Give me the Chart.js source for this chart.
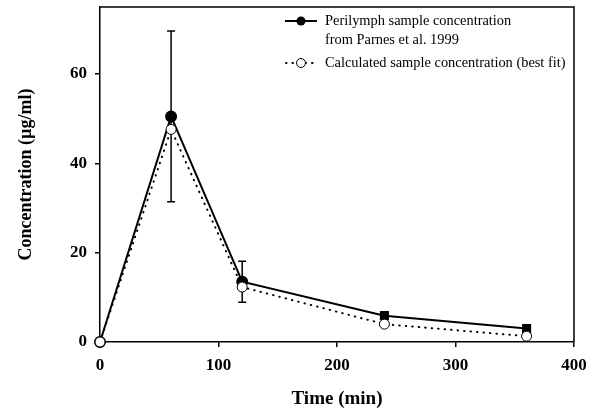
<!DOCTYPE html>
<html>
<head>
<meta charset="utf-8">
<script src="https://cdn.jsdelivr.net/npm/chart.js@4"></script>
<style>
  html, body { margin: 0; padding: 0; background: #fff; }
  #wrap { width: 598px; height: 410px; }
</style>
</head>
<body>
<div id="wrap"><canvas id="chart" width="598" height="410"></canvas></div>
<script>
// data
const times = [0, 60, 120, 240, 360];
const measured = [0, 50.5, 13.5, 5.9, 3.0];
const measuredErr = [0, 19.1, 4.6, 0, 0];
const calculated = [0, 47.6, 12.3, 4.0, 1.3];
const xTicks = [0, 100, 200, 300, 400];
const yTicks = [0, 20, 40, 60];

const legendLabels = [
  ['Perilymph sample concentration', 'from Parnes et al. 1999'],
  ['Calculated sample concentration (best fit)']
];

const serif = '"Liberation Serif", "Times New Roman", serif';
const dots = [0.5, 6];

// error bars under the markers
const errorBars = {
  id: 'errorBars',
  beforeDatasetsDraw(chart) {
    const ctx = chart.ctx;
    const xs = chart.scales.x, ys = chart.scales.y;
    ctx.save();
    ctx.strokeStyle = '#000';
    ctx.lineWidth = 1.5;
    times.forEach((t, i) => {
      const e = measuredErr[i];
      if (!e) return;
      const x = xs.getPixelForValue(t);
      const y1 = ys.getPixelForValue(measured[i] + e);
      const y2 = ys.getPixelForValue(measured[i] - e);
      ctx.beginPath();
      ctx.moveTo(x, y1); ctx.lineTo(x, y2);
      ctx.moveTo(x - 4, y1); ctx.lineTo(x + 4, y1);
      ctx.moveTo(x - 4, y2); ctx.lineTo(x + 4, y2);
      ctx.stroke();
    });
    ctx.restore();
  }
};

// frame + legend
const frameLegend = {
  id: 'frameLegend',
  afterDraw(chart) {
    const ctx = chart.ctx;
    const a = chart.chartArea;
    ctx.save();
    ctx.strokeStyle = '#000';
    ctx.lineWidth = 1.5;
    ctx.beginPath();
    ctx.moveTo(a.left, a.top); ctx.lineTo(a.right, a.top); ctx.lineTo(a.right, a.bottom);
    ctx.stroke();

    const x0 = 285, x1 = 317, xm = 301, tx = 325;
    // solid item
    ctx.lineWidth = 2;
    ctx.beginPath(); ctx.moveTo(x0, 21); ctx.lineTo(x1, 21); ctx.stroke();
    ctx.fillStyle = '#000';
    ctx.beginPath(); ctx.arc(xm, 21, 4.5, 0, Math.PI * 2); ctx.fill();
    // dotted item
    ctx.setLineDash(dots);
    ctx.lineCap = 'round';
    ctx.beginPath(); ctx.moveTo(x0 + 1, 63); ctx.lineTo(x1, 63); ctx.stroke();
    ctx.setLineDash([]);
    ctx.fillStyle = '#fff';
    ctx.lineWidth = 1;
    ctx.beginPath(); ctx.arc(xm, 63, 4.5, 0, Math.PI * 2); ctx.fill(); ctx.stroke();

    ctx.fillStyle = '#000';
    ctx.font = '14.4px ' + serif;
    ctx.textBaseline = 'middle';
    ctx.textAlign = 'left';
    ctx.fillText(legendLabels[0][0], tx, 21);
    ctx.fillText(legendLabels[0][1], tx, 40);
    ctx.fillText(legendLabels[1][0], tx, 63);
    ctx.restore();
  }
};

new Chart(document.getElementById('chart'), {
  type: 'line',
  data: {
    datasets: [
      {
        label: 'Calculated sample concentration (best fit)',
        data: times.map((t, i) => ({ x: t, y: calculated[i] })),
        borderColor: '#000',
        borderWidth: 2,
        borderDash: dots,
        borderCapStyle: 'round',
        pointRadius: 5,
        pointBackgroundColor: '#fff',
        pointBorderColor: '#000',
        pointBorderWidth: 1,
        tension: 0,
        order: 0
      },
      {
        label: 'Perilymph sample concentration from Parnes et al. 1999',
        data: times.map((t, i) => ({ x: t, y: measured[i] })),
        borderColor: '#000',
        borderWidth: 2,
        pointStyle: ['circle', 'circle', 'circle', 'rect', 'rect'],
        pointRadius: 5,
        pointBackgroundColor: '#000',
        pointBorderColor: '#000',
        tension: 0,
        order: 1
      }
    ]
  },
  options: {
    responsive: false,
    animation: false,
    clip: false,
    layout: { padding: { left: 0, top: 6, right: 24, bottom: 0 } },
    plugins: { legend: { display: false }, tooltip: { enabled: false } },
    scales: {
      x: {
        type: 'linear',
        min: 0, max: 400,
        afterBuildTicks: s => { s.ticks = xTicks.map(v => ({ value: v })); },
        afterFit: s => { s.height = 68; s.paddingLeft = 0; s.paddingRight = 0; },
        grid: { drawOnChartArea: false, drawTicks: true, tickLength: 5, color: '#000', lineWidth: 1.5 },
        border: { display: true, color: '#000', width: 1.5 },
        ticks: { color: '#000', padding: 8, maxRotation: 0, font: { family: serif, size: 17, weight: 'bold' } },
        title: { display: true, text: 'Time (min)', color: '#000', padding: { top: 11, bottom: 0 }, font: { family: serif, size: 19, weight: 'bold' } }
      },
      y: {
        min: 0, max: 75,
        afterBuildTicks: s => { s.ticks = yTicks.map(v => ({ value: v })); },
        afterFit: s => { s.width = 100; s.paddingTop = 0; s.paddingBottom = 0; },
        grid: { drawOnChartArea: false, drawTicks: true, tickLength: 5, color: '#000', lineWidth: 1.5 },
        border: { display: true, color: '#000', width: 1.5 },
        ticks: { color: '#000', padding: 8, font: { family: serif, size: 17, weight: 'bold' } },
        title: { display: true, text: 'Concentration (µg/ml)', color: '#000', padding: { top: 16, bottom: 0 }, font: { family: serif, size: 18, weight: 'bold' } }
      }
    }
  },
  plugins: [errorBars, frameLegend]
});
</script>
</body>
</html>
